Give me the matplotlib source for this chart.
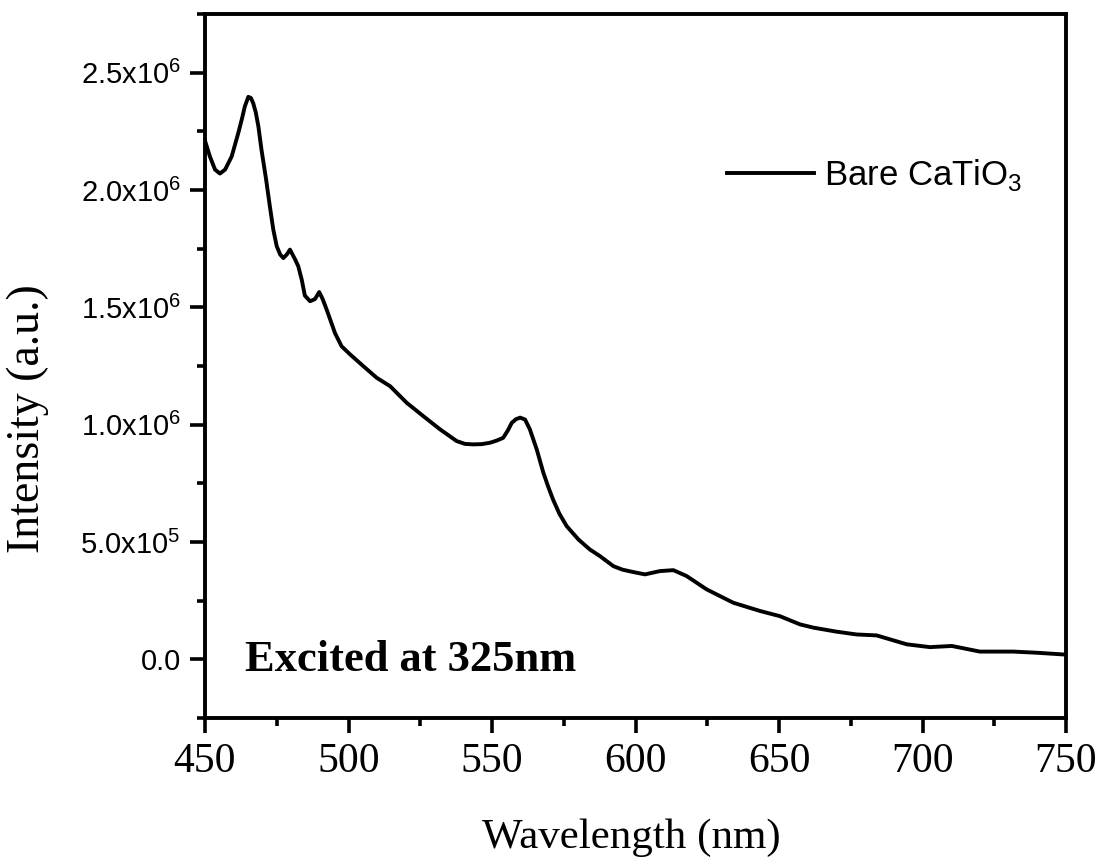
import numpy as np
import matplotlib
matplotlib.use("Agg")
import matplotlib.pyplot as plt
from matplotlib.ticker import MultipleLocator

# photoluminescence spectrum (intensity in units of 1e6)
wavelength = [450, 451.7, 453.5, 455.2, 457, 459.3, 461.6, 462.8, 463.9, 465.1,
              466.0, 466.8, 467.7, 468.6, 469.7, 471.3, 472.6, 473.8, 475, 476.2,
              477.3, 478.5, 479.6, 481.4, 482.5, 483.7, 484.8, 486.6, 488.3, 489.8,
              491.0, 492.4, 495.3, 497.6, 500.5, 505.2, 509.8, 514.5, 520.3, 526.1,
              531.9, 537.7, 540.6, 543.5, 546.4, 549.3, 551.6, 553.9, 555.5, 556.9,
              558.3, 559.8, 561.5, 563.2, 565.6, 567.9, 569.6, 571.3, 573.5, 576,
              580.1, 584.1, 587.6, 592.3, 595.5, 599.2, 603.3, 608.5, 613.2, 617.8,
              624.8, 634.1, 643.4, 650.3, 657.3, 662, 670, 677, 684, 694.5,
              702.6, 710.2, 720, 731.6, 740, 750]
intensity = [2.21, 2.143, 2.087, 2.07, 2.087, 2.143, 2.243, 2.30, 2.357, 2.397,
             2.392, 2.37, 2.33, 2.271, 2.17, 2.044, 1.93, 1.831, 1.76, 1.725,
             1.71, 1.725, 1.746, 1.704, 1.675, 1.618, 1.55, 1.526, 1.535, 1.565,
             1.535, 1.49, 1.39, 1.334, 1.30, 1.249, 1.20, 1.164, 1.093, 1.036,
             0.98, 0.93, 0.918, 0.916, 0.917, 0.923, 0.932, 0.944, 0.975, 1.008,
             1.023, 1.03, 1.022, 0.98, 0.894, 0.795, 0.735, 0.68, 0.62, 0.568,
             0.511, 0.468, 0.44, 0.397, 0.382, 0.372, 0.362, 0.376, 0.38, 0.355,
             0.298, 0.241, 0.206, 0.184, 0.149, 0.135, 0.118, 0.106, 0.102, 0.064,
             0.052, 0.057, 0.033, 0.033, 0.028, 0.02]

series_label = r"Bare CaTiO$_{\mathregular{3}}$"
note = "Excited at 325nm"

yticks = [0, 0.5e6, 1.0e6, 1.5e6, 2.0e6, 2.5e6]
yticklabels = ["0.0",
               r"5.0x10$^{\mathregular{5}}$",
               r"1.0x10$^{\mathregular{6}}$",
               r"1.5x10$^{\mathregular{6}}$",
               r"2.0x10$^{\mathregular{6}}$",
               r"2.5x10$^{\mathregular{6}}$"]
xticks = [450, 500, 550, 600, 650, 700, 750]

sans = "Liberation Sans"
serif = "Liberation Serif"

fig = plt.figure(figsize=(11.04, 8.65), dpi=100)
ax = fig.add_axes([205/1104, 1 - 718/865, 861/1104, 704/865])

ax.plot(wavelength, np.array(intensity) * 1e6, color="black", lw=2.8,
        solid_joinstyle="round", label=series_label)

ax.set_xlim(450, 750)
ax.set_ylim(-0.25e6, 2.75e6)
ax.set_xticks(xticks)
ax.set_xticklabels([str(x) for x in xticks], fontfamily=serif, fontsize=30)
ax.set_yticks(yticks)
ax.set_yticklabels(yticklabels, fontfamily=sans, fontsize=21)
ax.xaxis.set_minor_locator(MultipleLocator(25))
ax.yaxis.set_minor_locator(MultipleLocator(0.25e6))

for s in ax.spines.values():
    s.set_linewidth(2.8)
ax.tick_params(which="both", direction="out", top=False, right=False, width=2.6)
ax.tick_params(which="major", length=10.5)
ax.tick_params(which="minor", length=6)
ax.tick_params(axis="x", which="major", pad=7)
ax.tick_params(axis="y", which="major", pad=7)

fig.text(631/1104, 1 - 838/865, "Wavelength (nm)", fontfamily=serif, fontsize=31,
         ha="center", va="center")
fig.text(28/1104, 1 - 419/865, "Intensity (a.u.)", fontfamily=serif, fontsize=33,
         ha="center", va="center", rotation=90)

ax.text(464, -0.05e6, note, fontfamily=serif, fontsize=32, fontweight="bold",
        ha="left", va="baseline")

ax.legend(loc="center left", bbox_to_anchor=(0.606, 0.771), frameon=False,
          prop={"family": sans, "size": 25}, handlelength=2.5, handletextpad=0.3,
          borderpad=0, borderaxespad=0)

fig.savefig("out.png", dpi=100)
